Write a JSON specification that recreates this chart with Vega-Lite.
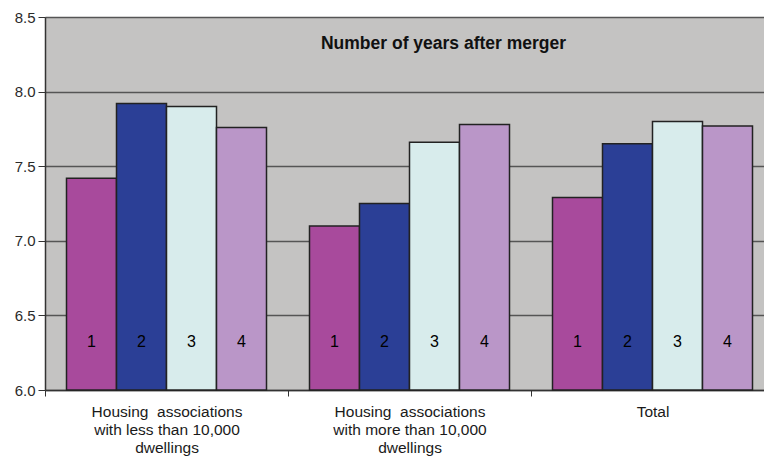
{
  "$schema": "https://vega.github.io/schema/vega-lite/v6.json",
  "width": 719,
  "height": 373,
  "autosize": "none",
  "padding": {"left": 45, "top": 17, "right": 0, "bottom": 69},
  "background": "white",
  "title": {
    "text": "Number of years after merger",
    "font": "Liberation Sans",
    "fontSize": 17.5,
    "fontWeight": "bold",
    "color": "#111",
    "anchor": "middle",
    "dx": 39,
    "offset": -60,
    "baseline": "bottom"
  },
  "config": {
    "view": {"fill": "#c4c3c2", "stroke": null},
    "axis": {"labelFont": "Liberation Sans", "titleFont": "Liberation Sans"}
  },
  "data": {
    "values": [
      {"group": "Housing\u00a0 associations|with less than 10,000|dwellings", "year": "1", "value": 7.42},
      {"group": "Housing\u00a0 associations|with less than 10,000|dwellings", "year": "2", "value": 7.92},
      {"group": "Housing\u00a0 associations|with less than 10,000|dwellings", "year": "3", "value": 7.90},
      {"group": "Housing\u00a0 associations|with less than 10,000|dwellings", "year": "4", "value": 7.76},
      {"group": "Housing\u00a0 associations|with more than 10,000|dwellings", "year": "1", "value": 7.10},
      {"group": "Housing\u00a0 associations|with more than 10,000|dwellings", "year": "2", "value": 7.25},
      {"group": "Housing\u00a0 associations|with more than 10,000|dwellings", "year": "3", "value": 7.66},
      {"group": "Housing\u00a0 associations|with more than 10,000|dwellings", "year": "4", "value": 7.78},
      {"group": "Total", "year": "1", "value": 7.29},
      {"group": "Total", "year": "2", "value": 7.65},
      {"group": "Total", "year": "3", "value": 7.80},
      {"group": "Total", "year": "4", "value": 7.77}
    ]
  },
  "encoding": {
    "x": {
      "field": "group",
      "type": "nominal",
      "sort": null,
      "scale": {"paddingInner": 0, "paddingOuter": 0, "range": [0, 729]},
      "axis": {
        "title": null,
        "labelAngle": 0,
        "labelExpr": "split(datum.label, '|')",
        "labelFontSize": 15.5,
        "labelColor": "#1a1a1a",
        "labelPadding": 8,
        "labelLineHeight": 18,
        "tickBand": "extent",
        "tickSize": 6,
        "tickColor": "#333",
        "domainColor": "#333",
        "domainWidth": 1.5,
        "labelLimit": 300
      }
    },
    "xOffset": {
      "field": "year",
      "type": "nominal",
      "scale": {"paddingInner": 0, "paddingOuter": 0.43}
    }
  },
  "layer": [
    {
      "mark": {"type": "bar", "stroke": "#222", "strokeWidth": 1.5},
      "encoding": {
        "y": {
          "field": "value",
          "type": "quantitative",
          "scale": {"domain": [6, 8.5], "nice": false, "zero": false},
          "axis": {
            "title": null,
            "values": [6, 6.5, 7, 7.5, 8, 8.5],
            "format": ".1f",
            "labelFontSize": 15,
            "labelColor": "#2a2a2a",
            "labelPadding": 3,
            "tickSize": 7,
            "tickColor": "#333",
            "domainColor": "#333",
            "domainWidth": 1.5,
            "grid": true,
            "gridColor": "#555",
            "gridWidth": 1.5
          }
        },
        "y2": {"datum": 6},
        "color": {
          "field": "year",
          "type": "nominal",
          "scale": {"domain": ["1", "2", "3", "4"], "range": ["#a84a9c", "#2b3f96", "#d8ecec", "#ba96c8"]},
          "legend": null
        }
      }
    },
    {
      "mark": {"type": "text", "font": "Liberation Sans", "fontSize": 16, "color": "#000", "baseline": "middle"},
      "encoding": {
        "y": {"datum": 6.32, "type": "quantitative"},
        "text": {"field": "year"}
      }
    }
  ]
}
